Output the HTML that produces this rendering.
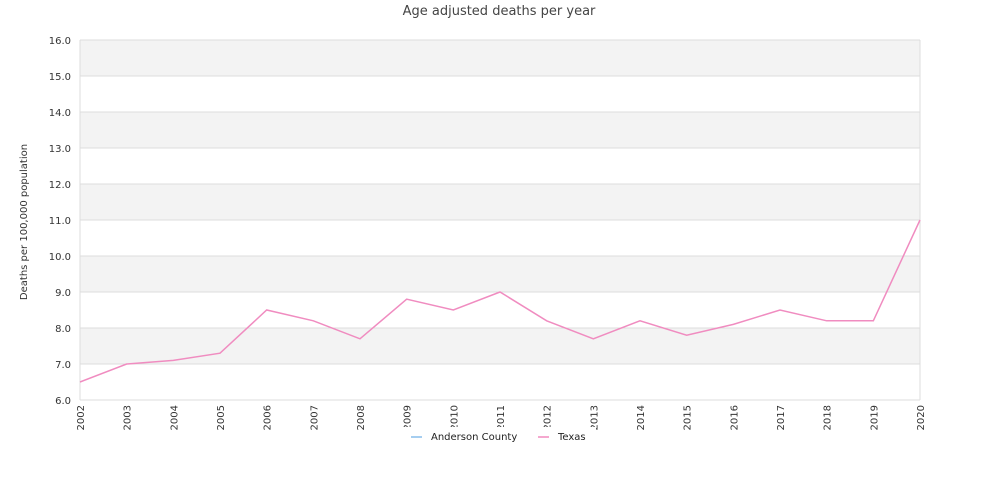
<!DOCTYPE html>
<html><head><meta charset="utf-8"><style>
body{margin:0;background:#fff;font-family:"DejaVu Sans","Liberation Sans",sans-serif}
</style></head><body>
<svg id="c" width="1000" height="500" style="display:block;font-family:'DejaVu Sans','Liberation Sans',sans-serif">
<text x="499" y="15" text-anchor="middle" font-size="13" fill="#444">Age adjusted deaths per year</text>
<g id="bands"></g><g id="grid"></g>
<text transform="translate(27,222) rotate(-90)" text-anchor="middle" font-size="10" fill="#333">Deaths per 100,000 population</text>
<g id="yt"></g><g id="xt"></g><g id="series"></g>
<g>
<rect x="402" y="427" width="194" height="20" fill="#fff"/>
<g><line x1="411" y1="437" x2="422" y2="437" stroke="#a6cef0" stroke-width="2"/><text x="431" y="440" font-size="10" fill="#222">Anderson County</text></g>
<g><line x1="538" y1="437" x2="549" y2="437" stroke="#f5a8cf" stroke-width="2"/><text x="558" y="440" font-size="10" fill="#222">Texas</text></g>
</g>
</svg>
<script>
const years=[2002,2003,2004,2005,2006,2007,2008,2009,2010,2011,2012,2013,2014,2015,2016,2017,2018,2019,2020];
const texas=[6.5,7.0,7.1,7.3,8.5,8.2,7.7,8.8,8.5,9.0,8.2,7.7,8.2,7.8,8.1,8.5,8.2,8.2,11.0];
const anderson=[];
const yTicks=[6,7,8,9,10,11,12,13,14,15,16];
const NS="http://www.w3.org/2000/svg";
const x0=80,x1=920,y0=400,y1=40,ymin=6,ymax=16;
const X=i=>x0+(x1-x0)*i/(years.length-1);
const Y=v=>y0-(v-ymin)/(ymax-ymin)*(y0-y1);
function mk(t,a,p){const e=document.createElementNS(NS,t);for(const k in a)e.setAttribute(k,a[k]);p.appendChild(e);return e;}
const bands=document.getElementById('bands'),grid=document.getElementById('grid'),yt=document.getElementById('yt'),xt=document.getElementById('xt'),series=document.getElementById('series');
for(let i=0;i<yTicks.length-1;i++){if(i%2===1){const r=mk('rect',{x:x0,y:Y(yTicks[i+1]),width:x1-x0,height:Y(yTicks[i])-Y(yTicks[i+1]),fill:'#f3f3f3'},bands);

}}
yTicks.forEach(v=>{const l=mk('line',{x1:x0,x2:x1,y1:Y(v),y2:Y(v),stroke:'#ddd','stroke-width':1},grid);


const t=mk('text',{x:x0-9,y:Y(v)+4,'text-anchor':'end','font-size':10,fill:'#333'},yt);t.textContent=v.toFixed(1);

});
mk('line',{x1:x0,x2:x0,y1:y1,y2:y0,stroke:'#ddd'},grid);
mk('line',{x1:x1,x2:x1,y1:y1,y2:y0,stroke:'#ddd'},grid);
years.forEach((yr,i)=>{const t=mk('text',{transform:`translate(${X(i)+4},405) rotate(-90)`,'text-anchor':'end','font-size':10,fill:'#333'},xt);t.textContent=yr;

});
function line(data,color,name){if(!data.length)return;const p=mk('polyline',{points:data.map((v,i)=>X(i)+','+Y(v)).join(' '),fill:'none',stroke:color,'stroke-width':1.5},series);

}
line(anderson,'#a6cef0','anderson-county-line');
line(texas,'#f08cc0','texas-line');
</script>
</body></html>
